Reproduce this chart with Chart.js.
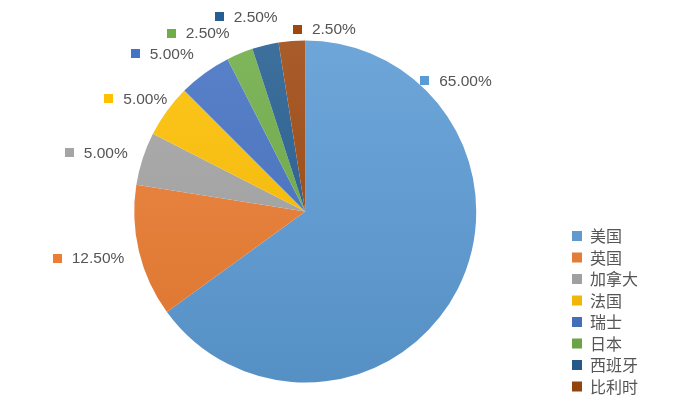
<!DOCTYPE html>
<html lang="zh">
<head>
    <meta charset="UTF-8">
    <title>国家占比</title>
    <script src="https://cdn.jsdelivr.net/npm/chart.js"></script>
    <style>
        html, body {
            margin: 0;
            padding: 0;
            background: #ffffff;
        }
        #wrap {
            width: 688px;
            height: 418px;
        }
    </style>
</head>
<body>
    <div id="wrap">
        <canvas id="pieChart" width="688" height="418"></canvas>
    </div>

    <script>
        // data
        const countries = ['美国', '英国', '加拿大', '法国', '瑞士', '日本', '西班牙', '比利时'];
        const shares = [65, 12.5, 5, 5, 5, 2.5, 2.5, 2.5];
        const sliceColors = ['#5B9BD5', '#ED7D31', '#A5A5A5', '#FFC000', '#4472C4', '#70AD47', '#255E91', '#9E480E'];

        // lighten (amt > 0) or darken (amt < 0) a hex colour
        function shade(hex, amt) {
            const n = parseInt(hex.slice(1), 16);
            let r = n >> 16, g = (n >> 8) & 255, b = n & 255;
            const t = amt < 0 ? 0 : 255, p = Math.abs(amt);
            r = Math.round(r + (t - r) * p);
            g = Math.round(g + (t - g) * p);
            b = Math.round(b + (t - b) * p);
            return 'rgb(' + r + ',' + g + ',' + b + ')';
        }

        // Excel-like soft vertical gradient on each slice
        function sliceFill(ctx) {
            const c = sliceColors[ctx.dataIndex];
            const area = ctx.chart.chartArea;
            if (!area) return c;
            const g = ctx.chart.ctx.createLinearGradient(0, area.top, 0, area.bottom);
            g.addColorStop(0, shade(c, 0.12));
            g.addColorStop(1, shade(c, -0.08));
            return g;
        }

        // outside labels: little colour square + percentage
        const outsideLabels = {
            id: 'outsideLabels',
            afterDatasetsDraw(chart, args, opts) {
                const ctx = chart.ctx;
                const meta = chart.getDatasetMeta(0);
                ctx.save();
                ctx.font = opts.font;
                ctx.textBaseline = 'middle';
                meta.data.forEach((arc, i) => {
                    const text = shares[i].toFixed(2) + '%';
                    const tw = ctx.measureText(text).width;
                    const box = opts.box, gap = opts.gap;
                    const w = box + gap + tw, h = 16;
                    let mid = (arc.startAngle + arc.endAngle) / 2;
                    if (opts.angle[i] !== undefined) mid = opts.angle[i] * Math.PI / 180 - Math.PI / 2;
                    const cs = Math.cos(mid), sn = Math.sin(mid);
                    const rr = arc.outerRadius + opts.offset;
                    const nudge = opts.nudge[i] || [0, 0];
                    const cx = arc.x + rr * cs + cs * w / 2 + nudge[0];
                    const cy = arc.y + rr * sn + sn * h / 2 + nudge[1];
                    const left = cx - w / 2;
                    ctx.fillStyle = sliceColors[i];
                    ctx.fillRect(Math.round(left), Math.round(cy - box / 2), box, box);
                    ctx.fillStyle = opts.color;
                    ctx.textAlign = 'left';
                    ctx.fillText(text, left + box + gap, cy + 1);
                });
                ctx.restore();
            }
        };

        const ctx = document.getElementById('pieChart').getContext('2d');

        const pieChart = new Chart(ctx, {
            type: 'pie',
            data: {
                labels: countries,
                datasets: [{
                    data: shares,
                    backgroundColor: sliceFill,
                    borderWidth: 0,
                    radius: 171
                }]
            },
            options: {
                responsive: false,
                animation: false,
                layout: {
                    padding: { top: 23, bottom: 18, left: 44, right: 40 }
                },
                plugins: {
                    legend: {
                        position: 'right',
                        align: 'end',
                        labels: {
                            boxWidth: 10,
                            boxHeight: 10,
                            padding: 5.5,
                            color: '#555555',
                            font: { family: '"Noto Sans CJK SC", sans-serif', size: 16 }
                        }
                    },
                    tooltip: { enabled: false },
                    outsideLabels: {
                        font: '15.5px "Liberation Sans", Arial, sans-serif',
                        color: '#555555',
                        box: 9,
                        gap: 10,
                        offset: 12,
                        angle: { 0: 45 },
                        nudge: { 0: [-4, 4], 1: [-4, 2], 2: [-5, 0], 3: [4, -1], 4: [-17, -3], 5: [-25, -2], 6: [-9, -9], 7: [36, 8] }
                    }
                }
            },
            plugins: [outsideLabels]
        });
    </script>
</body>
</html>
